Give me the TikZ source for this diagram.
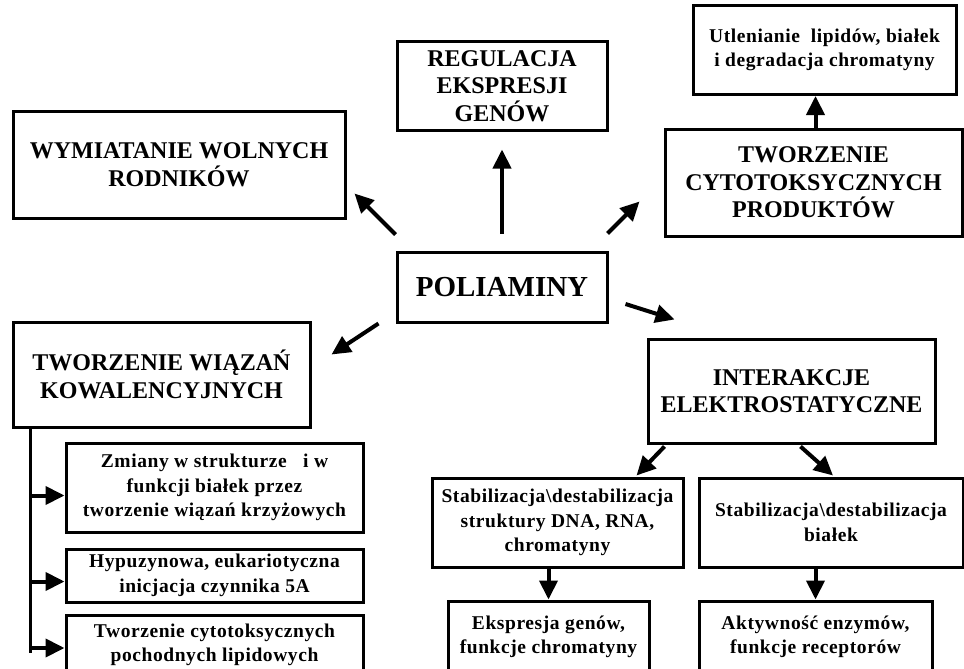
\documentclass[tikz,border=0pt]{standalone}
\usepackage{fontspec}
\setmainfont{Liberation Serif}
\newfontfamily\drugi{Liberation Serif}[LetterSpace=3]
\usepackage{tikz}
\usetikzlibrary{arrows.meta, positioning, calc}

\tikzset{
  ramka/.style 2 args={draw, line width=3pt, align=center, inner sep=0pt,
    minimum width=#1pt, minimum height=#2pt},
  duzy/.style={font=\fontsize{24}{27.5}\selectfont\bfseries},
  maly/.style={font=\drugi\fontsize{19.5}{24.5}\selectfont\bfseries},
  strz/.style={-{Triangle[length=19pt,width=18pt]}, line width=4pt},
}

\begin{document}
\begin{tikzpicture}[x=1pt, y=-1pt]
        \useasboundingbox (0,0) rectangle (964,669);

        % Wezel centralny
        \node[ramka={210}{70}, font=\fontsize{29}{32}\selectfont\bfseries] (poliaminy) at (502,287) {POLIAMINY};

        % Gorna czesc
        \node[ramka={332}{107}, duzy] (wymiatanie) at (179,164.5) {WYMIATANIE WOLNYCH\\RODNIKÓW};
        \node[ramka={210}{88}, duzy] (regulacja) at (502,86) {REGULACJA\\EKSPRESJI\\GENÓW};
        \node[ramka={297}{107}, duzy] (cytotoks) at (813.5,182.5) {TWORZENIE\\CYTOTOKSYCZNYCH\\PRODUKTÓW};
        \node[ramka={263}{89}, maly] (utlenianie) at (824.5,50) {Utlenianie~ lipidów, białek\\i degradacja chromatyny};

        % Wiazania kowalencyjne
        \node[ramka={297}{105}, duzy] (wiazania) at (161.5,374.5) {TWORZENIE WIĄZAŃ\\KOWALENCYJNYCH};
        \node[ramka={297}{89}, maly] (zmiany) at (214.5,487.5) {Zmiany w strukturze~~ i w\\funkcji białek przez\\tworzenie wiązań krzyżowych};
        \node[ramka={297}{53}, maly] (hypuzyn) at (214.5,575.5) {Hypuzynowa, eukariotyczna\\inicjacja czynnika 5A};
        \node[ramka={297}{60}, maly] (pochodne) at (214.5,645) {Tworzenie cytotoksycznych\\pochodnych lipidowych};

        % Interakcje elektrostatyczne
        \node[ramka={287}{104}, duzy] (interakcje) at (791.5,391) {INTERAKCJE\\ELEKTROSTATYCZNE};
        \node[ramka={251}{89}, maly] (stabdna) at (557.5,522.5) {Stabilizacja\textbackslash destabilizacja\\struktury DNA, RNA,\\chromatyny};
        \node[ramka={264}{89}, maly] (stabbialek) at (831,522.5) {Stabilizacja\textbackslash destabilizacja\\białek};
        \node[ramka={201}{72}, maly] (ekspresja) at (548.5,637) {Ekspresja genów,\\funkcje chromatyny};
        \node[ramka={233}{72}, maly] (aktywnosc) at (815.5,637) {Aktywność enzymów,\\funkcje receptorów};

        % Strzalki od centrum
        \draw[strz] ([yshift=16]poliaminy.north west) -- ([xshift=8,yshift=26]wymiatanie.south east);
        \draw[strz] ([yshift=17]poliaminy.north) -- ([yshift=-18]regulacja.south);
        \draw[strz] ([xshift=-1,yshift=17]poliaminy.north east) -- ([xshift=-24,yshift=36]cytotoks.south west);
        \draw[strz] ([xshift=17,yshift=-17]poliaminy.east) -- ([xshift=28,yshift=18]interakcje.north west);
        \draw[strz] ([xshift=-17]poliaminy.south west) -- ([xshift=20,yshift=-34]wiazania.north east);
        \draw[strz] ([xshift=2]cytotoks.north) -- ([xshift=2]cytotoks.north |- utlenianie.south);

        % Pien po lewej
        \coordinate (pien) at ([xshift=19]wiazania.south west);
        \foreach \n/\s in {zmiany/-8, hypuzyn/-6, pochodne/-3}
            \coordinate (\n-we) at ([yshift=\s]\n.west);
        \draw[line width=3pt] (pien) -- ([yshift=-5]pien |- pochodne-we);
        \foreach \n in {zmiany, hypuzyn, pochodne}
            \draw[strz] (pien |- \n-we) -- (\n-we);

        % Strzalki ponizej interakcji
        \draw[strz] ([xshift=18,yshift=-2]interakcje.south west) -- ([xshift=-48,yshift=1]stabdna.north east);
        \draw[strz] ([xshift=9,yshift=-2]interakcje.south) -- ([xshift=2,yshift=1]stabbialek.north);
        \draw[strz] (ekspresja.north |- stabdna.south) -- (ekspresja.north);
        \draw[strz] (aktywnosc.north |- stabbialek.south) -- (aktywnosc.north);
    \end{tikzpicture}
\end{document}
